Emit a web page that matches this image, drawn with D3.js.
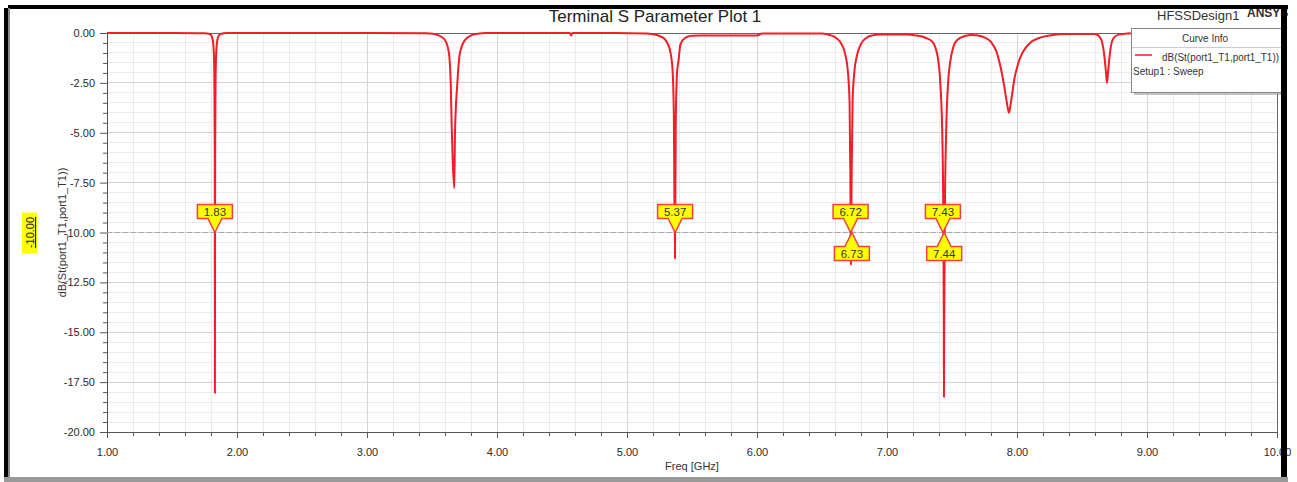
<!DOCTYPE html>
<html><head><meta charset="utf-8">
<script src="https://cdn.jsdelivr.net/npm/d3@7"></script>
<style>
html,body{margin:0;padding:0;background:#fff;}
svg{display:block;font-family:"Liberation Sans",Arial,sans-serif;}
</style></head>
<body><svg id="c" width="1297" height="482"></svg>
<script>
// ---- data ----
const freqGHz = [1.00,1.50,1.75,1.79,1.805,1.815,1.822,1.826,1.829,1.830,1.832,1.835,1.840,1.848,1.858,1.875,1.92,
  2.50,3.00,3.45,3.52,3.56,3.60,3.63,3.644,3.652,3.660,3.671,3.677,3.695,3.715,3.754,3.80,3.85,3.92,
  4.30,4.56,4.57,4.58,4.90,5.15,5.20,5.25,5.29,5.31,5.335,5.35,5.36,5.369,5.375,5.385,5.397,5.41,5.43,5.46,5.50,5.56,
  5.70,5.85,6.00,6.04,6.20,6.40,6.50,6.56,6.61,6.65,6.68,6.700,6.712,6.718,6.722,6.727,6.735,6.748,6.77,6.80,6.84,6.89,6.94,
  7.05,7.15,7.22,7.30,7.35,7.39,7.41,7.425,7.433,7.437,7.438,7.440,7.445,7.455,7.47,7.485,7.51,7.54,7.60,7.65,7.70,
  7.75,7.80,7.84,7.87,7.90,7.925,7.938,7.955,7.98,8.01,8.05,8.10,8.17,8.25,8.39,8.55,8.60,8.646,8.669,8.685,8.692,8.70,8.715,8.738,8.78,8.85,9.00,9.50,10.00];
const dBValues = [0,0,-0.01,-0.05,-0.15,-0.4,-1.0,-2.5,-6.0,-18.05,-6.0,-2.5,-1.0,-0.4,-0.15,-0.05,0,
  0,0,-0.01,-0.05,-0.15,-0.35,-1.0,-2.5,-4.8,-6.5,-7.77,-5.0,-2.5,-1.0,-0.35,-0.12,-0.04,0,
  0,0,-0.12,0,0,-0.02,-0.06,-0.15,-0.3,-0.5,-1.0,-1.8,-4.0,-11.3,-4.5,-2.0,-1.35,-0.6,-0.35,-0.2,-0.14,-0.13,
  -0.13,-0.13,-0.12,-0.03,-0.02,-0.02,-0.03,-0.1,-0.25,-0.55,-1.1,-2.0,-3.5,-7.0,-11.6,-8.0,-3.5,-2.0,-1.1,-0.55,-0.25,-0.12,-0.08,
  -0.08,-0.08,-0.12,-0.25,-0.45,-1.2,-2.5,-5.0,-9.0,-14.5,-18.25,-14.5,-9.0,-5.0,-2.5,-1.5,-0.7,-0.35,-0.15,-0.1,-0.12,
  -0.22,-0.45,-0.9,-1.6,-2.6,-3.6,-4.0,-3.4,-2.3,-1.5,-0.9,-0.5,-0.25,-0.12,-0.05,-0.05,-0.05,-0.3,-1.0,-2.0,-2.5,-2.0,-1.0,-0.3,-0.08,-0.02,0,0,0];
const xTickValues = [1,2,3,4,5,6,7,8,9,10];
const yTickValues = [0,-2.5,-5,-7.5,-10,-12.5,-15,-17.5,-20];
const markerFreqs = [1.83,5.37,6.72,6.73,7.43,7.44];
const markerSides = ["above","above","above","below","above","below"];
const markerLevel = -10;
const titleText = "Terminal S Parameter Plot 1";
const xLabel = "Freq [GHz]";
const yLabel = "dB(St(port1_T1,port1_T1))";
const legendItems = ["dB(St(port1_T1,port1_T1))"];

// ---- layout ----
const svg = d3.select("#c");
const L = 107, R = 1277, T = 33, B = 432;
const x = d3.scaleLinear().domain([1,10]).range([L,R]);
const y = d3.scaleLinear().domain([0,-20]).range([T,B]);
const fmt = d => d.toFixed(2);

// grid
const g = svg.append("g");
const minorX = d3.range(1,10.001,0.2), minorY = d3.range(0,-20.001,-0.5);
g.selectAll(".mx").data(minorX).join("line").attr("x1",d=>x(d)).attr("x2",d=>x(d)).attr("y1",T).attr("y2",B)
  .attr("stroke","#ebebeb").attr("stroke-width",1).attr("shape-rendering","crispEdges");
g.selectAll(".my").data(minorY).join("line").attr("y1",d=>y(d)).attr("y2",d=>y(d)).attr("x1",L).attr("x2",R)
  .attr("stroke","#ebebeb").attr("stroke-width",1).attr("shape-rendering","crispEdges");
g.selectAll(".Mx").data(xTickValues).join("line").attr("x1",d=>x(d)).attr("x2",d=>x(d)).attr("y1",T).attr("y2",B)
  .attr("stroke","#d4d4d4").attr("stroke-width",1).attr("shape-rendering","crispEdges");
g.selectAll(".My").data(yTickValues).join("line").attr("y1",d=>y(d)).attr("y2",d=>y(d)).attr("x1",L).attr("x2",R)
  .attr("stroke","#d4d4d4").attr("stroke-width",1).attr("shape-rendering","crispEdges");
svg.append("line").attr("x1",L).attr("x2",R).attr("y1",T).attr("y2",T).attr("stroke","#666").attr("shape-rendering","crispEdges");
svg.append("line").attr("x1",R).attr("x2",R).attr("y1",T).attr("y2",B).attr("stroke","#666").attr("shape-rendering","crispEdges");

// axes
const isMajY = d => yTickValues.some(v=>Math.abs(v-d)<1e-6);
const isMajX = d => xTickValues.some(v=>Math.abs(v-d)<1e-6);
const yAxis = d3.axisLeft(y).tickValues(minorY).tickFormat(d=>isMajY(d)?fmt(d):"").tickSize(4).tickPadding(8);
const ya = svg.append("g").attr("transform",`translate(${L},0)`).call(yAxis);
ya.selectAll(".tick line").attr("x2",d=>isMajY(d)?-7:-4);
const xAxis = d3.axisBottom(x).tickValues(minorX).tickFormat(d=>isMajX(d)?fmt(d):"").tickSize(4).tickPadding(10);
const xa = svg.append("g").attr("transform",`translate(0,${B})`).call(xAxis);
xa.selectAll(".tick line").attr("y2",d=>isMajX(d)?6:4);
[ya,xa].forEach(a=>{
  a.select(".domain").attr("stroke","#555");
  a.selectAll(".tick line").attr("stroke","#555");
  a.selectAll("text").attr("font-size",11).attr("fill","#2a2a2a").attr("font-family","Liberation Sans, Arial, sans-serif");
});
xa.selectAll("text").attr("dy","0.9em");

// -10 dashed reference line
svg.append("line").attr("x1",L).attr("x2",R).attr("y1",y(markerLevel)).attr("y2",y(markerLevel))
  .attr("stroke","#a8a8a8").attr("stroke-dasharray","5,3").attr("shape-rendering","crispEdges");

// curve
svg.append("clipPath").attr("id","pc").append("rect").attr("x",L).attr("y",T-3).attr("width",R-L).attr("height",B-T+3);
const pts = freqGHz.map((f,i)=>[f,dBValues[i]]);
svg.append("path").datum(pts).attr("clip-path","url(#pc)")
  .attr("d",d3.line().x(d=>x(d[0])).y(d=>y(d[1])).curve(d3.curveMonotoneX))
  .attr("fill","none").attr("stroke","#f21d26").attr("stroke-width",2).attr("stroke-linejoin","round");

// markers
const bw=35, bh=14, th=14, tw=7;
markerFreqs.forEach((f,i)=>{
  const px = x(f), py = y(markerLevel), up = markerSides[i]==="above";
  const s = up?-1:1;
  const by = py + s*th, bo = by + s*bh;
  const p = d3.path();
  p.moveTo(px,py); p.lineTo(px+tw,by); p.lineTo(px+bw/2,by); p.lineTo(px+bw/2,bo);
  p.lineTo(px-bw/2,bo); p.lineTo(px-bw/2,by); p.lineTo(px-tw,by); p.closePath();
  svg.append("path").attr("d",p.toString()).attr("fill","#ffff00").attr("stroke","#f04040").attr("stroke-width",1.5);
  svg.append("text").attr("x",px).attr("y",(by+bo)/2+4).attr("text-anchor","middle")
    .attr("font-size",11.5).attr("fill","#333").text(fmt(f));
});

// left axis marker label -10.00
const ly = y(markerLevel);
svg.append("rect").attr("x",22).attr("y",ly-20).attr("width",15).attr("height",41).attr("fill","#ffff00");
svg.append("text").attr("transform",`translate(34,${ly}) rotate(-90)`).attr("text-anchor","middle")
  .attr("font-size",11).attr("fill","#222").attr("text-decoration","underline").text(fmt(markerLevel));

// axis titles
svg.append("text").attr("transform",`translate(66,${(T+B)/2}) rotate(-90)`).attr("text-anchor","middle")
  .attr("font-size",11).attr("fill","#333").text(yLabel);
svg.append("text").attr("x",692).attr("y",470).attr("text-anchor","middle").attr("font-size",11).attr("fill","#333").text(xLabel);

// title
svg.append("text").attr("x",655).attr("y",22).attr("text-anchor","middle").attr("font-size",17).attr("fill","#222").text(titleText);
svg.append("text").attr("x",1157).attr("y",20).attr("font-size",13).attr("fill","#333").text("HFSSDesign1");
svg.append("text").attr("x",1247).attr("y",17).attr("font-size",12).attr("font-weight","bold").attr("fill","#333").text("ANSYS");

// legend
const lg = svg.append("g");
lg.append("rect").attr("x",1134).attr("y",31).attr("width",152).attr("height",64).attr("fill","#9a9a9a").attr("opacity",0.6);
lg.append("rect").attr("x",1131.5).attr("y",28.5).attr("width",151).attr("height",64).attr("fill","#fff").attr("stroke","#888");
lg.append("text").attr("x",1205).attr("y",42).attr("text-anchor","middle").attr("font-size",10).attr("fill","#333").text("Curve Info");
lg.append("line").attr("x1",1132).attr("x2",1282).attr("y1",47.5).attr("y2",47.5).attr("stroke","#ccc");
legendItems.forEach((t,i)=>{
  lg.append("line").attr("x1",1135).attr("x2",1152).attr("y1",55+i*14).attr("y2",55+i*14).attr("stroke","#f21d26").attr("stroke-width",1.5);
  lg.append("text").attr("x",1162).attr("y",61+i*14).attr("font-size",10).attr("fill","#333")
    .attr("textLength",117).attr("lengthAdjust","spacingAndGlyphs").text(t);
});
lg.append("text").attr("x",1133).attr("y",75).attr("font-size",10).attr("fill","#333").text("Setup1 : Sweep");

// outer frame
svg.append("rect").attr("x",8).attr("y",5).attr("width",1280).attr("height",4).attr("fill","#000");
svg.append("rect").attr("x",4).attr("y",8).attr("width",4).attr("height",470).attr("fill","#000");
svg.append("rect").attr("x",8).attr("y",8).attr("width",2).attr("height",470).attr("fill","#888");
svg.append("rect").attr("x",1281).attr("y",5).attr("width",6).attr("height",473).attr("fill","#000");
svg.append("rect").attr("x",4).attr("y",477).attr("width",1284).attr("height",5).attr("fill","#9a9a9a");
</script></body></html>
